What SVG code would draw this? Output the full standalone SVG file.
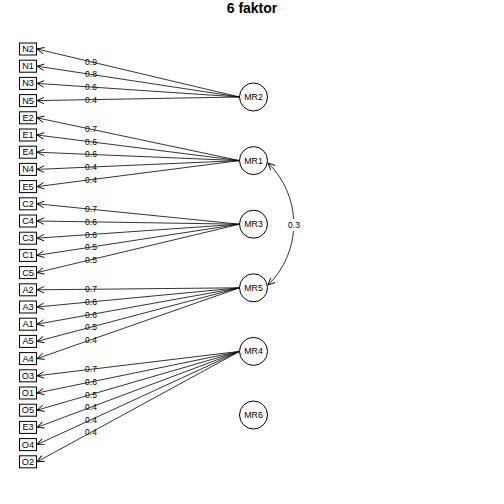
<svg xmlns="http://www.w3.org/2000/svg" width="504" height="504" viewBox="0 0 504 504">
<defs>
<marker id="ah" markerUnits="userSpaceOnUse" markerWidth="12" markerHeight="12" orient="auto-start-reverse" overflow="visible">
<path d="M-7,-3.2 L0,0 L-7,3.2" fill="none" stroke="#000" stroke-width="0.9"/>
</marker>
<style>
.bx rect{fill:#fff;stroke:#000;stroke-width:1}
.bx text{font-family:"Liberation Sans",Arial,sans-serif;font-size:9.2px;text-anchor:middle;dominant-baseline:central;fill:#000}
.fc text{font-family:"Liberation Sans",Arial,sans-serif;font-size:8.8px;text-anchor:middle;dominant-baseline:central;fill:#000}
.fc circle{fill:#fff;stroke:#000;stroke-width:1}
.ed path{fill:none;stroke:#000;stroke-width:0.8;marker-end:url(#ah)}
.lb text{font-family:"Liberation Sans",Arial,sans-serif;font-size:8.5px;text-anchor:middle;dominant-baseline:central;fill:#000}
</style>
</defs>
<rect width="504" height="504" fill="#fff"/>
<text x="252" y="13" font-family="Liberation Sans,Arial,sans-serif" font-size="14" font-weight="bold" text-anchor="middle">6 faktor</text>

<g id="connectors" class="ed">
<path d="M239.5,97 L37,49"/>
<path d="M239.5,97 L37,66.2"/>
<path d="M239.5,97 L37,83.4"/>
<path d="M239.5,97 L37,100.6"/>
<path d="M239.5,160.6 L37,117.8"/>
<path d="M239.5,160.6 L37,135"/>
<path d="M239.5,160.6 L37,152.2"/>
<path d="M239.5,160.6 L37,169.4"/>
<path d="M239.5,160.6 L37,186.6"/>
<path d="M239.5,224.2 L37,203.8"/>
<path d="M239.5,224.2 L37,221"/>
<path d="M239.5,224.2 L37,238.2"/>
<path d="M239.5,224.2 L37,255.4"/>
<path d="M239.5,224.2 L37,272.6"/>
<path d="M239.5,287.8 L37,289.8"/>
<path d="M239.5,287.8 L37,307"/>
<path d="M239.5,287.8 L37,324.2"/>
<path d="M239.5,287.8 L37,341.4"/>
<path d="M239.5,287.8 L37,358.6"/>
<path d="M239.5,351.4 L37,375.8"/>
<path d="M239.5,351.4 L37,393"/>
<path d="M239.5,351.4 L37,410.2"/>
<path d="M239.5,351.4 L37,427.4"/>
<path d="M239.5,351.4 L37,444.6"/>
<path d="M239.5,351.4 L37,461.8"/>
<path d="M268,163 A85 85 0 0 1 268,285" style="marker-start:url(#ah)"/>
</g>

<g id="labels" class="lb">
<rect x="286" y="219" width="16" height="12" fill="#fff"/>
<text x="294" y="225">0.3</text>
<text x="91" y="61.8">0.9</text>
<text x="91" y="74.4">0.8</text>
<text x="91" y="87">0.6</text>
<text x="91" y="99.6">0.4</text>
<text x="91" y="129.2">0.7</text>
<text x="91" y="141.8">0.6</text>
<text x="91" y="154.4">0.6</text>
<text x="91" y="167.1">0.4</text>
<text x="91" y="179.7">0.4</text>
<text x="91" y="209.2">0.7</text>
<text x="91" y="221.9">0.6</text>
<text x="91" y="234.5">0.6</text>
<text x="91" y="247.1">0.5</text>
<text x="91" y="259.7">0.5</text>
<text x="91" y="289.3">0.7</text>
<text x="91" y="301.9">0.6</text>
<text x="91" y="314.5">0.6</text>
<text x="91" y="327.1">0.5</text>
<text x="91" y="339.7">0.4</text>
<text x="91" y="369.3">0.7</text>
<text x="91" y="381.9">0.6</text>
<text x="91" y="394.5">0.5</text>
<text x="91" y="407.1">0.4</text>
<text x="91" y="419.7">0.4</text>
<text x="91" y="432.4">0.4</text>
</g>

<g class="bx">
<g id="N2"><rect x="19.5" y="43" width="17" height="12"/><text x="28" y="49">N2</text></g>
<g id="N1"><rect x="19.5" y="60.2" width="17" height="12"/><text x="28" y="66.2">N1</text></g>
<g id="N3"><rect x="19.5" y="77.4" width="17" height="12"/><text x="28" y="83.4">N3</text></g>
<g id="N5"><rect x="19.5" y="94.6" width="17" height="12"/><text x="28" y="100.6">N5</text></g>
<g id="E2"><rect x="19.5" y="111.8" width="17" height="12"/><text x="28" y="117.8">E2</text></g>
<g id="E1"><rect x="19.5" y="129" width="17" height="12"/><text x="28" y="135">E1</text></g>
<g id="E4"><rect x="19.5" y="146.2" width="17" height="12"/><text x="28" y="152.2">E4</text></g>
<g id="N4"><rect x="19.5" y="163.4" width="17" height="12"/><text x="28" y="169.4">N4</text></g>
<g id="E5"><rect x="19.5" y="180.6" width="17" height="12"/><text x="28" y="186.6">E5</text></g>
<g id="C2"><rect x="19.5" y="197.8" width="17" height="12"/><text x="28" y="203.8">C2</text></g>
<g id="C4"><rect x="19.5" y="215" width="17" height="12"/><text x="28" y="221">C4</text></g>
<g id="C3"><rect x="19.5" y="232.2" width="17" height="12"/><text x="28" y="238.2">C3</text></g>
<g id="C1"><rect x="19.5" y="249.4" width="17" height="12"/><text x="28" y="255.4">C1</text></g>
<g id="C5"><rect x="19.5" y="266.6" width="17" height="12"/><text x="28" y="272.6">C5</text></g>
<g id="A2"><rect x="19.5" y="283.8" width="17" height="12"/><text x="28" y="289.8">A2</text></g>
<g id="A3"><rect x="19.5" y="301" width="17" height="12"/><text x="28" y="307">A3</text></g>
<g id="A1"><rect x="19.5" y="318.2" width="17" height="12"/><text x="28" y="324.2">A1</text></g>
<g id="A5"><rect x="19.5" y="335.4" width="17" height="12"/><text x="28" y="341.4">A5</text></g>
<g id="A4"><rect x="19.5" y="352.6" width="17" height="12"/><text x="28" y="358.6">A4</text></g>
<g id="O3"><rect x="19.5" y="369.8" width="17" height="12"/><text x="28" y="375.8">O3</text></g>
<g id="O1"><rect x="19.5" y="387" width="17" height="12"/><text x="28" y="393">O1</text></g>
<g id="O5"><rect x="19.5" y="404.2" width="17" height="12"/><text x="28" y="410.2">O5</text></g>
<g id="E3"><rect x="19.5" y="421.4" width="17" height="12"/><text x="28" y="427.4">E3</text></g>
<g id="O4"><rect x="19.5" y="438.6" width="17" height="12"/><text x="28" y="444.6">O4</text></g>
<g id="O2"><rect x="19.5" y="455.8" width="17" height="12"/><text x="28" y="461.8">O2</text></g>
</g>

<g class="fc">
<g id="MR2"><circle cx="253.5" cy="97" r="14"/><text x="253.5" y="97">MR2</text></g>
<g id="MR1"><circle cx="253.5" cy="160.6" r="14"/><text x="253.5" y="160.6">MR1</text></g>
<g id="MR3"><circle cx="253.5" cy="224.2" r="14"/><text x="253.5" y="224.2">MR3</text></g>
<g id="MR5"><circle cx="253.5" cy="287.8" r="14"/><text x="253.5" y="287.8">MR5</text></g>
<g id="MR4"><circle cx="253.5" cy="351.4" r="14"/><text x="253.5" y="351.4">MR4</text></g>
<g id="MR6"><circle cx="253.5" cy="415" r="14"/><text x="253.5" y="415">MR6</text></g>
</g>
</svg>
